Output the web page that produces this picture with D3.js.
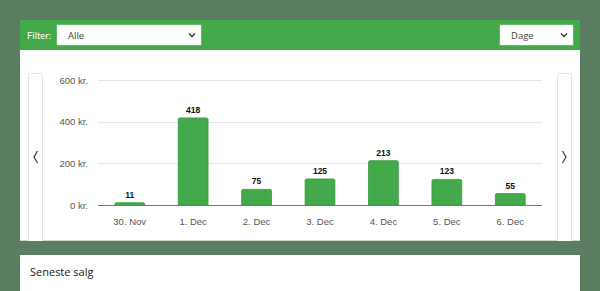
<!DOCTYPE html>
<html>
<head>
<meta charset="utf-8">
<script src="https://cdn.jsdelivr.net/npm/d3@7"></script>
<style>
  html, body { margin: 0; padding: 0; background: #5b7e63; }
  svg { display: block; }
</style>
</head>
<body>
<div id="chart"></div>
<script>
// data
const days = ['30. Nov', '1. Dec', '2. Dec', '3. Dec', '4. Dec', '5. Dec', '6. Dec'];
const sales = [11, 418, 75, 125, 213, 123, 55];
const yTicks = [0, 200, 400, 600];

const W = 600, H = 291;
const green = '#43a94b';

const svg = d3.select('#chart').append('svg')
    .attr('width', W)
    .attr('height', H);

// background
svg.append('rect').attr('width', W).attr('height', H).attr('fill', '#5b7e63');

// header bar
svg.append('rect').attr('x', 20).attr('y', 20).attr('width', 560).attr('height', 30).attr('fill', green);
svg.append('text').attr('x', 27).attr('y', 39)
    .attr('font-family', 'Lato, "Open Sans", sans-serif').attr('font-size', 9.5)
    .attr('fill', '#fff').text('Filter:');

// selects
const selects = [
    { x: 57, w: 144, label: 'Alle' },
    { x: 500, w: 73, label: 'Dage' }
];
selects.forEach(s => {
    svg.append('rect').attr('x', s.x).attr('y', 25).attr('width', s.w).attr('height', 20)
        .attr('fill', '#fff').attr('stroke', '#d8e8d9').attr('stroke-width', 0.5);
    svg.append('text').attr('x', s.x + 11).attr('y', 39)
        .attr('font-family', '"Open Sans", sans-serif').attr('font-size', 9.5)
        .attr('fill', '#444').text(s.label);
    const cx = s.x + s.w - 9;
    svg.append('path').attr('d', `M${cx - 3},33.5 L${cx},36.5 L${cx + 3},33.5`)
        .attr('fill', 'none').attr('stroke', '#333').attr('stroke-width', 1.4);
});

// main panel
svg.append('rect').attr('x', 20).attr('y', 50).attr('width', 560).attr('height', 190).attr('fill', '#fff');
svg.append('line').attr('x1', 20).attr('x2', 580).attr('y1', 240.5).attr('y2', 240.5).attr('stroke', '#cfd6d0');

// nav buttons
[{ x: 28, ch: 'M37.5,151 L34,157 L37.5,163' }, { x: 557, ch: 'M562.5,151 L566,157 L562.5,163' }].forEach(b => {
    svg.append('rect').attr('x', b.x + 0.5).attr('y', 73.5).attr('width', 14).attr('height', 175).attr('rx', 2)
        .attr('fill', '#fff').attr('stroke', '#e4e4e4');
    svg.append('path').attr('d', b.ch).attr('fill', 'none').attr('stroke', '#333').attr('stroke-width', 1.2);
});
// re-cover the lower part so the panel edge shows
svg.append('rect').attr('x', 20).attr('y', 241).attr('width', 560).attr('height', 14).attr('fill', '#5b7e63');

// bottom panel
svg.append('rect').attr('x', 20).attr('y', 255).attr('width', 560).attr('height', 40).attr('fill', '#fff');
svg.append('text').attr('x', 30).attr('y', 276)
    .attr('font-family', '"Open Sans", sans-serif').attr('font-size', 11)
    .attr('fill', '#222').text('Seneste salg');

// chart
const x = d3.scaleBand().domain(days).range([98, 542]).paddingInner(0.53).paddingOuter(0.265);
const y = d3.scaleLinear().domain([0, 600]).range([205, 80]);

const g = svg.append('g');

g.selectAll('.grid').data(yTicks.filter(t => t > 0)).enter().append('line')
    .attr('x1', 98).attr('x2', 542)
    .attr('y1', d => Math.round(y(d)) + 0.5).attr('y2', d => Math.round(y(d)) + 0.5)
    .attr('stroke', '#e6e6e6');

const yAxis = g.append('g').attr('transform', 'translate(88,0)')
    .call(d3.axisLeft(y).tickValues(yTicks).tickSize(0).tickPadding(0).tickFormat(d => d + ' kr.'));
yAxis.select('.domain').remove();
yAxis.selectAll('text').attr('font-family', 'Arial, "Liberation Sans", sans-serif')
    .attr('font-size', 9.5).attr('fill', '#555');

g.selectAll('.bar').data(days).enter().append('path')
    .attr('d', (d, i) => {
        const x0 = x(d), bw = x.bandwidth(), y0 = y(sales[i]), yb = y(0), r = 1.5;
        return `M${x0},${yb} L${x0},${y0 + r} Q${x0},${y0} ${x0 + r},${y0} L${x0 + bw - r},${y0} Q${x0 + bw},${y0} ${x0 + bw},${y0 + r} L${x0 + bw},${yb} Z`;
    })
    .attr('fill', green).attr('stroke', '#3a9a42').attr('stroke-width', 0.8);

g.selectAll('.val').data(days).enter().append('text')
    .attr('x', d => x(d) + x.bandwidth() / 2)
    .attr('y', (d, i) => y(sales[i]) - 5)
    .attr('text-anchor', 'middle')
    .attr('font-family', 'Arial, "Liberation Sans", sans-serif')
    .attr('font-size', 8.5).attr('font-weight', 'bold').attr('fill', '#111')
    .text((d, i) => sales[i]);

g.append('line').attr('x1', 98).attr('x2', 542).attr('y1', 205.5).attr('y2', 205.5)
    .attr('stroke', '#777').attr('stroke-width', 1);

const xAxis = g.append('g').attr('transform', 'translate(0,205)')
    .call(d3.axisBottom(x).tickSize(0).tickPadding(13));
xAxis.select('.domain').remove();
xAxis.selectAll('text').attr('font-family', 'Arial, "Liberation Sans", sans-serif')
    .attr('font-size', 9.5).attr('fill', '#555');
</script>
</body>
</html>
